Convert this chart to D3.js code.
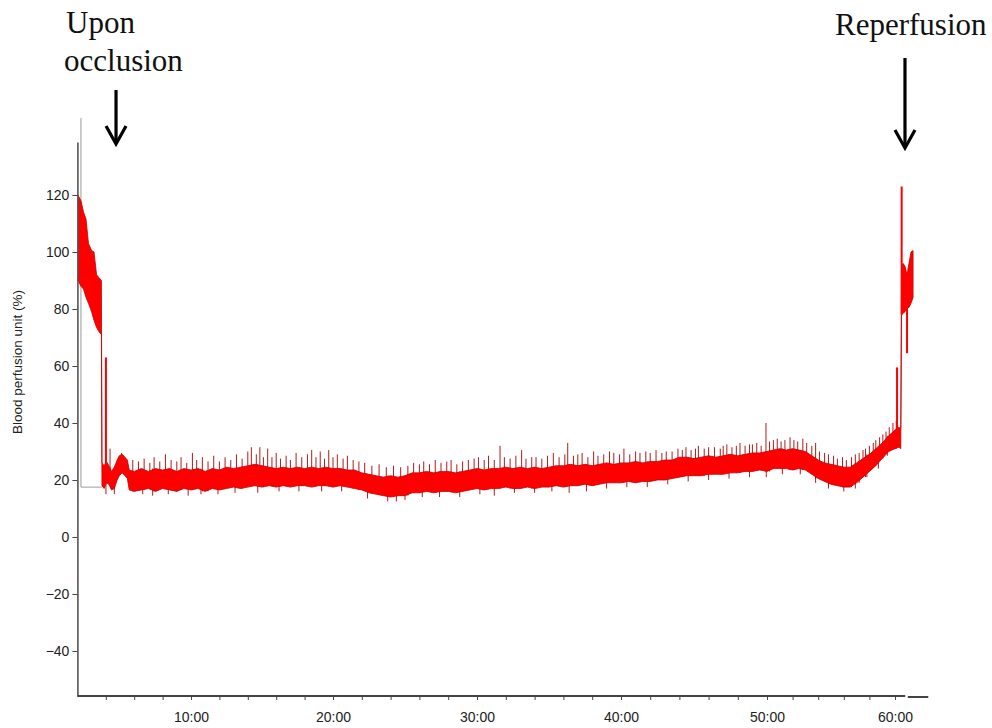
<!DOCTYPE html>
<html>
<head>
<meta charset="utf-8">
<script src="https://cdn.jsdelivr.net/npm/d3@7"></script>
<style>
  html, body { margin: 0; padding: 0; background: #fff; }
  svg { display: block; }
</style>
</head>
<body>
<svg id="chart" width="992" height="728"></svg>
<script>
// Laser Doppler perfusion recording; time in minutes from start of recording.
const xTickMinutes = [10, 20, 30, 40, 50, 60];
const xTickLabels = ["10:00", "20:00", "30:00", "40:00", "50:00", "60:00"];
const xMinorMinutes = [4, 6, 8, 10, 12, 14, 16, 18, 20, 22, 24, 26, 28, 30, 32, 34, 36, 38, 40,
  42, 44, 46, 48, 50, 52, 54, 56, 58, 60];
const yTickValues = [-40, -20, 0, 20, 40, 60, 80, 100, 120];
const yAxisTitle = "Blood perfusion unit (%)";

// Envelope of the fast-varying signal: lower and upper edge at each time
const bandTime = [
  2.04, 2.25, 2.43, 2.61, 2.78, 3.0, 3.17, 3.35, 3.52, 3.69,
  3.73, 3.88, 4.05, 4.22, 4.4, 4.6, 4.8, 4.95, 5.15, 5.35, 5.52, 5.65, 6.0,
  6.5, 7.0, 7.5, 8.0, 8.5, 9.0, 9.5, 10.0, 10.5, 11.0, 11.5, 12.0, 12.5, 13.0, 13.5,
  14.0, 14.5, 15.0, 15.5, 16.0, 16.5, 17.0, 17.5, 18.0, 18.5, 19.0, 19.5, 20.0, 20.5,
  21.0, 21.5, 22.0, 22.5, 23.0, 23.5, 24.0, 24.5, 25.0, 25.5, 26.0, 26.5, 27.0, 27.5,
  28.0, 28.5, 29.0, 29.5, 30.0, 30.5, 31.0, 31.5, 32.0, 32.5, 33.0, 33.5, 34.0, 34.5,
  35.0, 35.5, 36.0, 36.5, 37.0, 37.5, 38.0, 38.5, 39.0, 39.5, 40.0, 40.5, 41.0, 41.5,
  42.0, 42.5, 43.0, 43.5, 44.0, 44.5, 45.0, 45.5, 46.0, 46.5, 47.0, 47.5, 48.0, 48.5,
  49.0, 49.5, 50.0, 50.5, 51.0, 51.5, 52.0, 52.5, 53.0, 53.5, 54.0, 54.5, 55.0, 55.5,
  56.0, 56.5, 57.0, 57.5, 58.0, 58.5, 59.0, 59.5, 60.0, 60.3, 60.45,
  60.51, 60.63, 60.78, 60.94, 61.09, 61.25, 61.41
];
const bandLow = [
  90, 88, 87, 84, 82, 79, 76, 73.5, 72, 71,
  18, 17, 19, 18.5, 16.5, 17, 20, 21.5, 22.5, 21.5, 20.5, 16.5, 16,
  16.5, 17, 16, 17, 16.5, 16, 17, 16.5, 17, 16, 17, 16.5, 17, 17.5, 17,
  17.5, 18, 17.5, 18, 17.5, 18, 17.5, 18, 18, 17.5, 18, 18, 17.5, 18,
  17.5, 17, 16.5, 15.5, 15, 14.5, 14, 14.5, 14.5, 15.5, 15.5, 16, 15.5, 16,
  16, 15.5, 16, 16.5, 17, 16.5, 17, 17, 17.5, 17, 17, 17.5, 17, 17.5,
  17.5, 18, 17.5, 18, 18, 18.5, 18, 18.5, 19, 19, 19, 19.5, 19, 19.5,
  19.5, 20, 20, 20.5, 21, 21.5, 21.5, 21.5, 22, 22, 22, 22.5, 22.5, 23,
  23, 23.5, 23, 24, 24, 24, 23.5, 24, 23.5, 22, 20.5, 19.5, 18.5, 18,
  17.5, 17.5, 19, 21, 23, 25, 27.5, 30, 31, 31.5, 31,
  78, 78.5, 79, 80.5, 80.5, 82, 84
];
const bandHigh = [
  120, 118, 114, 111.5, 103, 100.5, 100, 92, 91, 90,
  26, 25, 26.5, 25, 23, 24.5, 27, 28.5, 29, 28, 27, 23.5, 23,
  24, 23, 24, 23.5, 24, 23, 24, 23.5, 24, 23, 24, 23.5, 24.5, 24, 24.5,
  25, 25.5, 25, 24.5, 24, 24.5, 24, 24.5, 24, 24.5, 24, 24.5, 24, 24,
  23.5, 23.5, 22.5, 22, 21.5, 21, 21.5, 21, 21.5, 22.5, 22.5, 23, 22.5, 23,
  23, 22.5, 23, 23.5, 24, 23.5, 24, 24, 24.5, 24, 24.5, 24, 24.5, 24,
  24.5, 25, 25, 25.5, 25, 25.5, 25, 25.5, 26, 25.5, 26, 26, 26.5, 26,
  26.5, 26.5, 27, 27, 28, 28, 27.5, 28, 28.5, 28, 28.5, 29, 28.5, 29,
  29.5, 29.5, 30, 30.5, 31, 30.5, 31, 30.5, 30, 28.5, 27, 26, 25.5, 25,
  24.5, 24.5, 26, 27.5, 29, 31, 33, 35.5, 37.5, 38.5, 38,
  95, 96, 95, 92, 96, 100, 100.5
];

// Short upward excursions above the envelope
const spikeTime = [
  4.3, 5.1, 5.9, 6.3, 6.7, 7.1, 7.4, 7.8, 8.2, 8.6, 9.0, 9.3, 9.7, 10.1, 10.4, 10.8,
  11.2, 11.6, 12.0, 12.4, 12.8, 13.2, 13.6, 14.0, 14.25, 14.6, 14.85, 15.1, 15.4, 15.7,
  16.0, 16.3, 16.7, 17.0, 17.4, 17.8, 18.2, 18.5, 18.8, 19.1, 19.4, 19.7, 20.0, 20.3,
  20.7, 21.0, 21.4, 21.8, 22.2, 22.7, 23.2, 23.7, 24.2, 24.7, 25.2, 25.6, 26.0, 26.3,
  26.7, 27.1, 27.5, 27.9, 28.2, 28.6, 29.0, 29.4, 29.8, 30.1, 30.5, 30.8, 31.2, 31.6,
  31.9, 32.3, 32.7, 33.1, 33.4, 33.8, 34.1, 34.5, 34.9, 35.3, 35.7, 36.1, 36.3, 36.7,
  37.0, 37.3, 37.7, 38.1, 38.4, 38.8, 39.2, 39.5, 39.9, 40.2, 40.6, 41.0, 41.3, 41.7,
  42.0, 42.4, 42.8, 43.1, 43.5, 43.9, 44.2, 44.45, 44.8, 45.1, 45.3, 45.7, 46.0, 46.4,
  46.8, 47.0, 47.25, 47.6, 47.9, 48.15, 48.5, 48.8, 49.0, 49.3, 49.6, 49.93, 50.2, 50.5,
  50.8, 51.1, 51.4, 51.8, 52.1, 52.4, 52.8, 53.1, 53.5, 53.8, 54.1, 54.5, 54.8, 55.2,
  55.5, 55.9, 56.2, 56.6, 56.9, 57.2, 57.5, 57.7, 58.0, 58.3, 58.5, 58.8, 59.05, 59.3,
  59.55, 59.84, 60.1
];
const spikePeak = [
  31, 29.5, 27, 26.5, 27.5, 26, 28, 26.5, 29, 27, 26.5, 28, 26, 29.5, 27, 28,
  26.5, 28.5, 26.5, 28, 27, 29, 27.5, 30, 31.5, 29, 31.5, 28, 31, 28,
  29.5, 27.5, 28.5, 27, 29.5, 28, 29, 30.5, 28, 30, 27.5, 30.5, 28, 29,
  27.5, 28.5, 27, 26.5, 26, 25, 25.5, 24.5, 25, 24.5, 25, 26, 25.5, 26.5,
  25.5, 27, 26, 26.5, 27, 25.5, 26.5, 27, 27.5, 28, 27, 28.5, 27, 32,
  28, 27.5, 28.5, 30.5, 27.5, 28, 28, 27.5, 28.5, 29.5, 28, 29, 33, 28.5,
  29, 29.5, 28, 30, 28.5, 29, 30, 29.5, 29, 31, 29, 30, 29.5, 30,
  29.5, 30.5, 29.5, 30, 30, 31, 30.5, 31.5, 30.5, 31, 32, 31, 31.5, 31.5,
  31, 32, 32.5, 31.5, 32, 33, 32, 32.5, 32.5, 33, 32, 40, 33.5, 34,
  34.5, 33.5, 34, 35, 34, 33.5, 34.5, 33, 32, 33, 30, 29.5, 29, 28.5,
  27.5, 28, 27, 28, 29, 29.5, 30.5, 31, 32, 33, 34, 35, 36, 37,
  38.5, 40, 41
];

// Short downward excursions below the envelope
const dipTime = [
  4.01, 4.6, 6.6, 7.3, 8.4, 9.8, 10.7, 11.9, 13.1, 14.7, 16.2, 17.6, 19.2, 20.6, 22.4,
  23.8, 24.4, 25.0, 26.2, 27.4, 28.8, 30.2, 31.2, 32.6, 34.0, 35.2, 36.4, 37.6, 39.0,
  40.4, 41.8, 43.2, 44.6, 46.0, 47.4, 48.8, 49.95, 51.2, 52.6, 53.8, 54.8, 56.0, 56.9,
  57.8, 58.7, 59.4
];
const dipFloor = [
  15, 15, 15, 14.5, 15, 14.5, 15, 15, 15.5, 15.5, 16, 16, 16, 16, 13.5,
  12.5, 12.5, 13, 14, 14, 14, 15, 14.5, 15.5, 15.5, 16, 15.5, 16, 17,
  17.5, 17.5, 18.5, 19.5, 20, 20.5, 21, 21, 22, 22, 19, 17, 16, 17,
  21, 24, 28.5
];

// Large transients at occlusion and at reperfusion
const burstTime = [4.01, 60.16, 60.52];
const burstPeak = [63, 59.5, 123];
const burstDipTime = [60.94];
const burstDipFloor = [64.5];

// Recorder start marker
const markerTime = [2.25, 2.25, 3.72];
const markerValue = [147, 17.5, 17.5];

// Event annotations
const eventLines = [["Upon", "occlusion"], ["Reperfusion"]];
const eventTime = [4.72, 60.78];

// ---------------------------------------------------------------------------
const svg = d3.select("#chart");
const sans = "'Liberation Sans', Arial, sans-serif";

// Time axis is stretched segment by segment between its labelled minutes
const x = d3.scaleLinear()
  .domain([2, 10, 20, 30, 40, 50, 60, 63])
  .range([77.4, 191, 333, 477, 621, 767, 895, 933.4]);
const y = d3.scaleLinear().domain([-55.8, 138.6]).range([696, 142]);

const nearest = d3.bisector(d => d).center;

// Start marker (thin grey)
svg.append("path")
  .attr("d", d3.line().x(i => x(markerTime[i])).y(i => y(markerValue[i]))(d3.range(markerTime.length)))
  .attr("fill", "none")
  .attr("stroke", "#9a9a9a")
  .attr("stroke-width", 1);

// Spikes and dips underneath the envelope
const gNoise = svg.append("g").attr("stroke", "#a80000").attr("stroke-width", 0.9);
spikeTime.forEach((t, i) => {
  const k = nearest(bandTime, t);
  gNoise.append("line")
    .attr("x1", x(t)).attr("x2", x(t))
    .attr("y1", y(spikePeak[i])).attr("y2", y(bandLow[k]));
});
dipTime.forEach((t, i) => {
  const k = nearest(bandTime, t);
  gNoise.append("line")
    .attr("x1", x(t)).attr("x2", x(t))
    .attr("y1", y(dipFloor[i])).attr("y2", y(bandHigh[k]));
});

// Envelope
const band = d3.range(bandTime.length).map(i => ({ t: bandTime[i], lo: bandLow[i], hi: bandHigh[i] }));
svg.append("path")
  .datum(band)
  .attr("d", d3.area().x(d => x(d.t)).y0(d => y(d.lo)).y1(d => y(d.hi)))
  .attr("fill", "#ff0000")
  .attr("stroke", "#c00000")
  .attr("stroke-width", 0.8)
  .attr("stroke-linejoin", "round");

// Transients
const gBurst = svg.append("g").attr("stroke", "#ff0000").attr("stroke-width", 2);
burstTime.forEach((t, i) => {
  const k = nearest(bandTime, t);
  gBurst.append("line")
    .attr("x1", x(t)).attr("x2", x(t))
    .attr("y1", y(burstPeak[i])).attr("y2", y(bandLow[k]));
});
burstDipTime.forEach((t, i) => {
  const k = nearest(bandTime, t);
  gBurst.append("line")
    .attr("x1", x(t)).attr("x2", x(t))
    .attr("y1", y(burstDipFloor[i])).attr("y2", y(bandHigh[k]));
});

// Y axis
const yAxis = svg.append("g")
  .attr("transform", `translate(${x(2)},0)`)
  .call(d3.axisLeft(y).tickValues(yTickValues).tickSize(5).tickSizeOuter(0).tickPadding(3));
yAxis.select(".domain").attr("stroke", "#555").attr("stroke-width", 1.6);
yAxis.selectAll(".tick line").attr("stroke", "#444");
yAxis.selectAll(".tick text")
  .attr("font-family", sans)
  .attr("font-size", 14)
  .attr("fill", "#222");

// X axis
const labelFor = d3.index(xTickMinutes.map((m, i) => [m, xTickLabels[i]]), d => d[0]);
const xAxis = svg.append("g")
  .attr("transform", `translate(0,${y(-55.8)})`)
  .call(d3.axisBottom(x).tickValues(xMinorMinutes).tickSize(4).tickSizeOuter(0).tickPadding(12)
    .tickFormat(m => labelFor.has(m) ? labelFor.get(m)[1] : ""));
xAxis.select(".domain").remove();
xAxis.selectAll(".tick line").attr("stroke", "#444");
xAxis.selectAll(".tick text")
  .attr("font-family", sans)
  .attr("font-size", 14)
  .attr("fill", "#222");
xAxis.append("line")
  .attr("x1", x(2)).attr("x2", x(60.8)).attr("y1", 0).attr("y2", 0)
  .attr("stroke", "#444").attr("stroke-width", 2);
xAxis.append("line")
  .attr("x1", x(61.0)).attr("x2", x(62.6)).attr("y1", 1).attr("y2", 1)
  .attr("stroke", "#444").attr("stroke-width", 2);

// Y axis title
svg.append("text")
  .attr("transform", "translate(22,362) rotate(-90)")
  .attr("text-anchor", "middle")
  .attr("font-family", sans)
  .attr("font-size", 13.5)
  .attr("fill", "#222")
  .text(yAxisTitle);

// Annotations with arrows
const annLayout = [
  { lines: [[66, 33], [64, 71]], top: 90, tip: 144 },
  { lines: [[835, 35]], top: 58, tip: 148 }
];
eventLines.forEach((lines, i) => {
  const L = annLayout[i];
  lines.forEach((s, j) => {
    svg.append("text")
      .attr("x", L.lines[j][0]).attr("y", L.lines[j][1])
      .attr("font-family", "'Liberation Serif', 'Times New Roman', serif")
      .attr("font-size", 31)
      .attr("fill", "#111")
      .text(s);
  });
  const ax = x(eventTime[i]);
  svg.append("line")
    .attr("x1", ax).attr("x2", ax).attr("y1", L.top).attr("y2", L.tip - 2)
    .attr("stroke", "#000").attr("stroke-width", 3.2);
  svg.append("path")
    .attr("d", `M${ax - 10},${L.tip - 18}L${ax},${L.tip}L${ax + 10},${L.tip - 18}`)
    .attr("fill", "none").attr("stroke", "#000").attr("stroke-width", 3.2)
    .attr("stroke-linejoin", "miter");
});
</script>
</body>
</html>
